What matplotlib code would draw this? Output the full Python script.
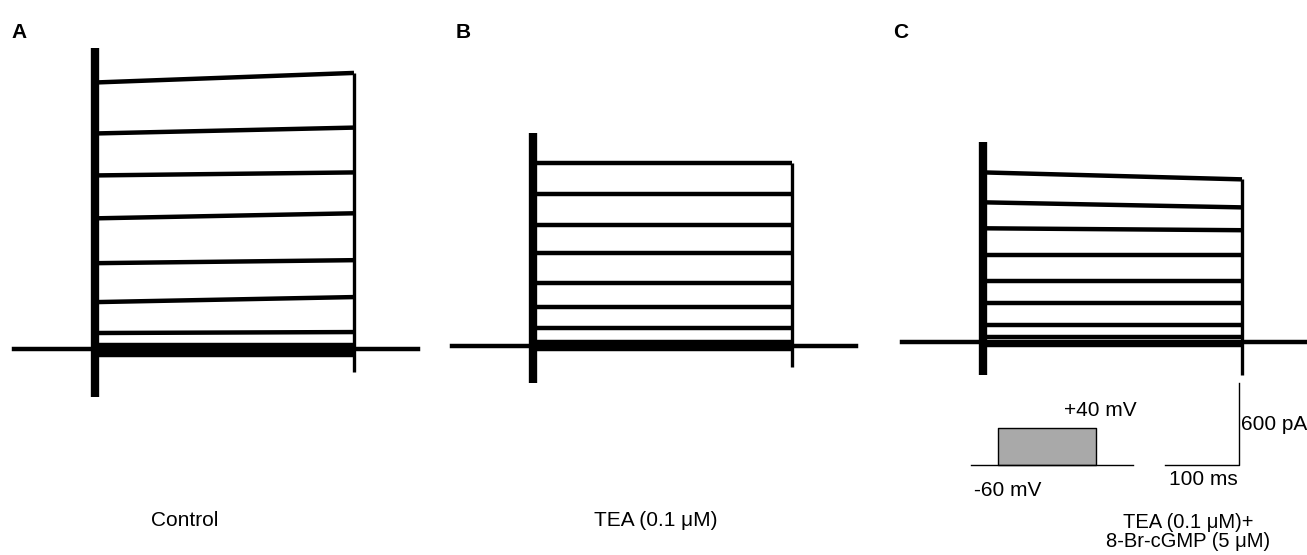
import matplotlib.pyplot as plt

plt.rcParams['font.family'] = ['Liberation Sans', 'DejaVu Sans']

W, H = 1307, 555
MS_PER_PX = 100 / 74
PA_PER_PX = 600 / 82

# ---- data (time in ms from step onset, current in pA) ----
t_start = -110
t_step_end = 350
t_end = 437

# steady current at step start / step end for each voltage step
ctrl_start = [1950, 1577, 1270, 956, 628, 343, 117, 29, -30, -45]
ctrl_end = [2020, 1620, 1292, 993, 650, 380, 124, 29, -30, -45]
tea_start = [1336, 1110, 883, 679, 460, 285, 131, 29, -25]
tea_end = [1336, 1110, 883, 679, 460, 285, 131, 29, -25]
cgmp_start = [1241, 1022, 832, 635, 445, 285, 124, 36, -20]
cgmp_end = [1190, 985, 818, 635, 445, 285, 124, 36, -20]

# capacitive transients (max, min) at onset and offset
ctrl_on = (2200, -350)
ctrl_off = (2020, -170)
tea_on = (1555, -270)
tea_off = (1336, -153)
cgmp_on = (1460, -240)
cgmp_off = (1190, -240)

scale_t = 100   # ms
scale_i = 600   # pA

# voltage protocol (schematic)
proto_t = [0, 27, 27, 125, 125, 162]
proto_v = [-60, -60, 40, 40, -60, -60]

titles = ['Control', 'TEA (0.1 \u03bcM)', 'TEA (0.1 \u03bcM)+\n8-Br-cGMP (5 \u03bcM)']
letters = ['A', 'B', 'C']

fig = plt.figure(figsize=(W / 100, H / 100), dpi=100)


def panel_axes(left, right, onset_px, base_px):
    ax = fig.add_axes([left / W, 0, (right - left) / W, 1])
    ax.set_xlim((left - onset_px) * MS_PER_PX, (right - onset_px) * MS_PER_PX)
    ax.set_ylim(-(H - base_px) * PA_PER_PX, base_px * PA_PER_PX)
    ax.axis('off')
    return ax


def draw_traces(ax, starts, ends, on, off):
    for s, e in zip(starts, ends):
        ax.plot([0, t_step_end], [s, e], color='black', lw=3.2, solid_capstyle='butt')
    ax.plot([t_start, t_end], [0, 0], color='black', lw=3.2)
    ax.plot([0, 0], [on[1], on[0]], color='black', lw=6, solid_capstyle='butt')
    ax.plot([t_step_end, t_step_end], [off[1], off[0]], color='black', lw=2.4,
            solid_capstyle='butt')


axA = panel_axes(0, 440, 95, 349)
draw_traces(axA, ctrl_start, ctrl_end, ctrl_on, ctrl_off)
axB = panel_axes(440, 880, 533, 346)
draw_traces(axB, tea_start, tea_end, tea_on, tea_off)
axC = panel_axes(880, 1307, 983, 342)
draw_traces(axC, cgmp_start, cgmp_end, cgmp_on, cgmp_off)

# scale bar in panel C
sb_x = t_step_end - 4
sb_y = -900
axC.plot([sb_x - scale_t, sb_x, sb_x], [sb_y, sb_y, sb_y + scale_i], color='black', lw=1.0)
axC.text(sb_x + 2, sb_y + scale_i / 2, f'{scale_i} pA', fontsize=15, va='center', ha='left')
axC.text(sb_x - scale_t + 6, sb_y - 40, f'{scale_t} ms', fontsize=15, va='top', ha='left')

# voltage protocol inset
axP = fig.add_axes([965 / W, 1 - 470 / H, 175 / W, 50 / H])
axP.set_xlim(-6, 169)
axP.set_ylim(-73, 62)
axP.axis('off')
axP.plot([proto_t[0], proto_t[-1]], [-60, -60], color='black', lw=1.0)
axP.fill_between(proto_t[1:5], -60, proto_v[1:5], color='#a9a9a9', edgecolor='black', lw=1.0)
fig.text(1064 / W, 1 - 410 / H, '+40 mV', fontsize=15, va='center', ha='left')
fig.text(974 / W, 1 - 491 / H, '-60 mV', fontsize=15, va='center', ha='left')

# panel labels and titles
for x, s in zip([11, 456, 893], letters):
    fig.text(x / W, 1 - 32 / H, s, fontsize=15, fontweight='bold', va='center', ha='left',
             family=['Liberation Sans Narrow', 'Liberation Sans'])
fig.text(185 / W, 1 - 520 / H, titles[0], fontsize=15, ha='center', va='center')
fig.text(656 / W, 1 - 520 / H, titles[1], fontsize=15, ha='center', va='center')
fig.text(1188 / W, 1 - 532 / H, titles[2], fontsize=14.5, ha='center', va='center',
         linespacing=1.05)

fig.savefig('out.png', dpi=100)
plt.close('all')
